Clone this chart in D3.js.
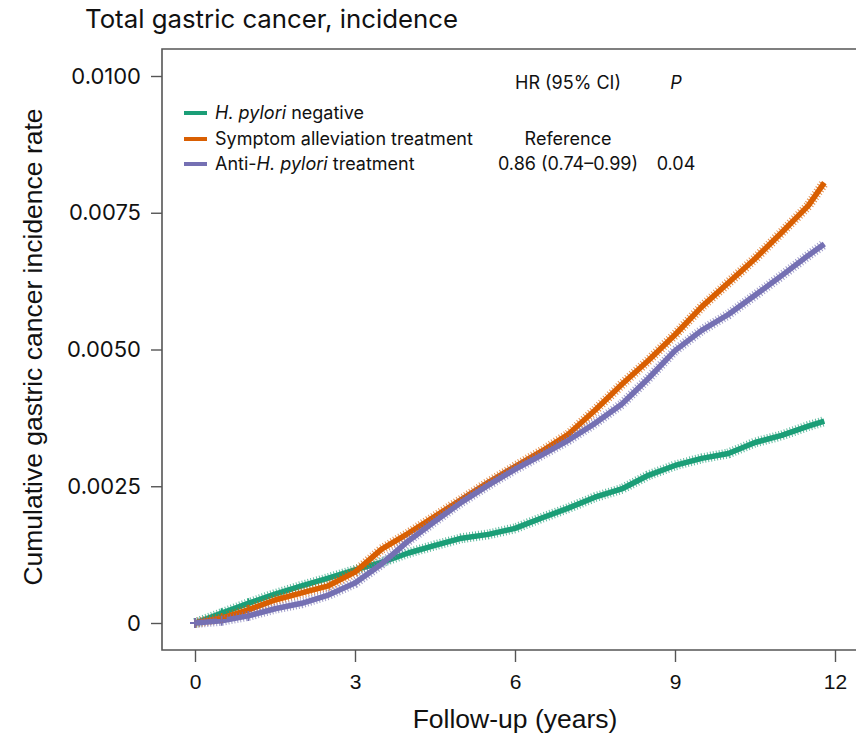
<!DOCTYPE html>
<html>
<head>
<meta charset="utf-8">
<script src="https://cdn.jsdelivr.net/npm/d3@7/dist/d3.min.js"></script>
<style>
    body { margin: 0; background: #fff; }
    svg { display: block; }
</style>
</head>
<body>
<div id="chart"></div>
<script>
var years = [0, 0.5, 1, 1.5, 2, 2.5, 3, 3.5, 4, 4.5, 5, 5.5, 6, 6.5, 7, 7.5, 8, 8.5, 9, 9.5, 10, 10.5, 11, 11.5, 11.8];
var hpNegative = [0, 0.00018, 0.00036, 0.00053, 0.00068, 0.00082, 0.00097, 0.00111, 0.00128, 0.00142, 0.00155, 0.00162, 0.00173,
    0.00192, 0.0021, 0.0023, 0.00245, 0.0027, 0.00288, 0.00301, 0.0031, 0.0033, 0.00343, 0.0036, 0.00369];
var symptomTx = [0, 0.00009, 0.00024, 0.00042, 0.00055, 0.00068, 0.00093, 0.00135, 0.00164, 0.00195, 0.00226, 0.00257, 0.00286,
    0.00314, 0.00345, 0.00389, 0.00436, 0.0048, 0.00527, 0.00578, 0.00622, 0.00666, 0.00714, 0.00763, 0.00805];
var antiHpTx = [0, 0.00004, 0.00013, 0.00026, 0.00036, 0.00051, 0.00073, 0.00108, 0.0015, 0.00186, 0.00221, 0.00252, 0.00281,
    0.00307, 0.00334, 0.00365, 0.004, 0.00447, 0.00498, 0.00535, 0.00564, 0.00599, 0.00635, 0.00672, 0.00693];
var xTicks = [0, 3, 6, 9, 12];
var yTicks = [0, 0.0025, 0.005, 0.0075, 0.01];
var yTickLabels = ["0", "0.0025", "0.0050", "0.0075", "0.0100"];

var groups = [
    { name: "negative", values: hpNegative, color: "#1b9e77", hr: "", p: "" },
    { name: "Symptom alleviation treatment", values: symptomTx, color: "#d95f02", hr: "Reference", p: "" },
    { name: "treatment", values: antiHpTx, color: "#7570b3", hr: "0.86 (0.74\u20130.99)", p: "0.04" }
];

var W = 856, H = 734;
var frame = { left: 162, top: 49, bottom: 650 };

var svg = d3.select("#chart").append("svg")
    .attr("width", W)
    .attr("height", H);

var x = d3.scaleLinear().domain([0, 12]).range([195, 835]);
var y = d3.scaleLinear().domain([0, 0.01]).range([623, 76]);

// title
svg.append("text")
    .attr("x", 85)
    .attr("y", 28)
    .attr("font-family", "Inter")
    .attr("font-size", 25.8)
    .attr("fill", "#111")
    .text("Total gastric cancer, incidence");

// frame (open on the right)
svg.append("path")
    .attr("d", "M" + W + "," + frame.top + "H" + frame.left + "V" + frame.bottom + "H" + W)
    .attr("fill", "none")
    .attr("stroke", "#555")
    .attr("stroke-width", 1.6);

// y axis
var yAxis = svg.append("g")
    .attr("transform", "translate(" + frame.left + ",0)")
    .call(d3.axisLeft(y).tickValues(yTicks).tickSize(11).tickPadding(10)
        .tickFormat(function (d, i) { return yTickLabels[i]; }));
yAxis.select(".domain").remove();
yAxis.selectAll(".tick line").attr("stroke", "#555").attr("stroke-width", 1.4);
yAxis.selectAll(".tick text")
    .attr("font-family", "Inter")
    .attr("font-size", 22)
    .attr("fill", "#111");

// x axis
var xAxis = svg.append("g")
    .attr("transform", "translate(0," + frame.bottom + ")")
    .call(d3.axisBottom(x).tickValues(xTicks).tickSize(12).tickPadding(12));
xAxis.select(".domain").remove();
xAxis.selectAll(".tick line").attr("stroke", "#555").attr("stroke-width", 1.4);
xAxis.selectAll(".tick text")
    .attr("font-family", "Liberation Sans")
    .attr("font-size", 21)
    .attr("fill", "#111");

// axis titles
svg.append("text")
    .attr("x", 515)
    .attr("y", 728)
    .attr("text-anchor", "middle")
    .attr("font-family", "Liberation Sans")
    .attr("font-size", 26.5)
    .attr("fill", "#111")
    .text("Follow-up (years)");

svg.append("text")
    .attr("transform", "translate(42,347) rotate(-90)")
    .attr("text-anchor", "middle")
    .attr("font-family", "Liberation Sans")
    .attr("font-size", 26.5)
    .attr("fill", "#111")
    .text("Cumulative gastric cancer incidence rate");

// curves: a solid core plus a dashed wide stroke mimicking the dense censor marks
var line = d3.line()
    .x(function (d, i) { return x(years[i]); })
    .y(function (d) { return y(d); });

var curves = svg.append("g");
groups.forEach(function (g) {
    curves.append("path")
        .attr("d", line(g.values))
        .attr("fill", "none")
        .attr("stroke", g.color)
        .attr("stroke-width", 5.5)
        .attr("stroke-linejoin", "round");
    curves.append("path")
        .attr("d", line(g.values))
        .attr("fill", "none")
        .attr("stroke", g.color)
        .attr("stroke-width", 10)
        .attr("stroke-dasharray", "1 2")
        .attr("opacity", 0.7);
});

// censor marks at the first readings
var plus = "M-5,0H5M0,-5V5";
groups.forEach(function (g) {
    curves.selectAll(null)
        .data(g.values.slice(0, 3))
        .enter().append("path")
        .attr("d", plus)
        .attr("transform", function (d, i) {
            return "translate(" + x(years[i]) + "," + y(d) + ")";
        })
        .attr("fill", "none")
        .attr("stroke", g.color)
        .attr("stroke-width", 1.8);
});

// legend
var legendY = [113, 139, 164];
var legend = svg.append("g")
    .attr("font-family", "Inter")
    .attr("font-size", 18)
    .attr("fill", "#111");

groups.forEach(function (g, i) {
    legend.append("line")
        .attr("x1", 184).attr("x2", 207)
        .attr("y1", legendY[i]).attr("y2", legendY[i])
        .attr("stroke", g.color)
        .attr("stroke-width", 4);
    var t = legend.append("text")
        .attr("x", 215)
        .attr("y", legendY[i] + 6);
    if (i === 0) {
        t.append("tspan").attr("font-style", "italic").text("H. pylori");
        t.append("tspan").text(" " + g.name);
    } else if (i === 2) {
        t.append("tspan").text("Anti-");
        t.append("tspan").attr("font-style", "italic").text("H. pylori");
        t.append("tspan").text(" " + g.name);
    } else {
        t.text(g.name);
    }
    legend.append("text")
        .attr("x", 568)
        .attr("y", legendY[i] + 6)
        .attr("text-anchor", "middle")
        .text(g.hr);
    legend.append("text")
        .attr("x", 676)
        .attr("y", legendY[i] + 6)
        .attr("text-anchor", "middle")
        .text(g.p);
});

legend.append("text")
    .attr("x", 568)
    .attr("y", 89)
    .attr("text-anchor", "middle")
    .text("HR (95% CI)");
legend.append("text")
    .attr("x", 676)
    .attr("y", 89)
    .attr("text-anchor", "middle")
    .attr("font-style", "italic")
    .text("P");
</script>
</body>
</html>
